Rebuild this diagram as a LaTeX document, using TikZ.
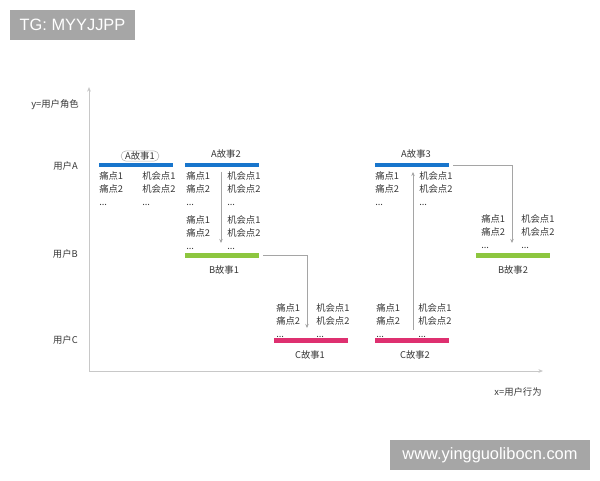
\documentclass[tikz,border=0pt]{standalone}
\usepackage{fontspec}
\setmainfont{Noto Sans CJK SC}
\newfontfamily\wmfont{Liberation Sans}
\usetikzlibrary{arrows.meta,calc}
\definecolor{barblue}{RGB}{24,117,204}
\definecolor{bargreen}{RGB}{141,198,63}
\definecolor{barpink}{RGB}{222,48,112}
\definecolor{wmgray}{RGB}{166,166,166}
\definecolor{txt}{RGB}{55,55,55}
\definecolor{connc}{RGB}{165,165,165}
\definecolor{axisc}{RGB}{200,200,200}
\tikzset{
  bar/.style={draw=none, minimum width=55.5pt, minimum height=3.4pt, inner sep=0pt},
  lbl/.style={font=\fontsize{7}{8}\selectfont, text=txt, inner sep=0.5pt},
  pts/.style={font=\fontsize{7}{9.4}\selectfont, text=txt, align=left, anchor=west, inner sep=0pt},
  conn/.style={draw=connc, line width=0.6pt, -{Stealth[length=3pt,width=2.6pt]}},
  axisline/.style={draw=axisc, line width=0.7pt, -{Stealth[length=3.5pt,width=2.8pt]}},
  wmbox/.style={fill=wmgray, text=white, font=\wmfont\fontsize{12.3}{14}\selectfont, inner sep=0pt, minimum height=22.5pt},
  axlbl/.style={font=\fontsize{7}{8}\selectfont, text=txt, inner sep=0pt}
}
\begin{document}
\begin{tikzpicture}[x=0.75pt,y=-0.75pt]
\useasboundingbox (0,0) rectangle (600,480);
% watermark boxes
\node[wmbox, minimum width=93.75pt] (tg) at (72.5,25) {TG: MYYJJPP};
\node[wmbox, minimum width=150pt] (wm) at (490,455) {www.yingguolibocn.com};
% axes
\coordinate (origin) at (89,371);
\coordinate (ytop) at (89,87);
\coordinate (xend) at (543,371);
\draw[axisline] (origin) -- (ytop);
\draw[axisline] (origin) -- (xend);
\node[axlbl] (ylab) at (55,105) {y=用户角色};
\node[axlbl, anchor=east] (ua) at (78,166) {用户A};
\node[axlbl, anchor=east] (ub) at (78,254) {用户B};
\node[axlbl, anchor=east] (uc) at (78,340) {用户C};
\node[axlbl] (xlab) at (518,392) {x=用户行为};
% bars
\node[bar, fill=barblue] (A1) at (136,165) {};
\node[bar, fill=barblue] (A2) at (222,165) {};
\node[bar, fill=barblue] (A3) at (412,165) {};
\node[bar, fill=bargreen] (B1) at (222,255.5) {};
\node[bar, fill=bargreen] (B2) at (513,255.5) {};
\node[bar, fill=barpink] (C1) at (311,340.5) {};
\node[bar, fill=barpink] (C2) at (412,340.5) {};
% story labels
\node[lbl, draw=gray!60, rounded corners=3.5pt, inner xsep=3pt, inner ysep=0.6pt] (lA1) at (140,156) {A故事1};
\node[lbl] (lA2) at (226,154) {A故事2};
\node[lbl] (lA3) at (416,154) {A故事3};
\node[lbl] (lB1) at (224,270) {B故事1};
\node[lbl] (lB2) at (513,270) {B故事2};
\node[lbl] (lC1) at (310,355) {C故事1};
\node[lbl] (lC2) at (415,355) {C故事2};
% pain points / opportunities
\node[pts] (pA1) at (99,190) {\strut 痛点1\\痛点2\\...\strut};
\node[pts] (oA1) at (142,190) {\strut 机会点1\\机会点2\\...\strut};
\node[pts] (pA2) at (186,190) {\strut 痛点1\\痛点2\\...\strut};
\node[pts] (oA2) at (227,190) {\strut 机会点1\\机会点2\\...\strut};
\node[pts] (pB1) at (186,234) {\strut 痛点1\\痛点2\\...\strut};
\node[pts] (oB1) at (227,234) {\strut 机会点1\\机会点2\\...\strut};
\node[pts] (pC1) at (276,322) {\strut 痛点1\\痛点2\\...\strut};
\node[pts] (oC1) at (316,322) {\strut 机会点1\\机会点2\\...\strut};
\node[pts] (pC2) at (376,322) {\strut 痛点1\\痛点2\\...\strut};
\node[pts] (oC2) at (418,322) {\strut 机会点1\\机会点2\\...\strut};
\node[pts] (pA3) at (375,190) {\strut 痛点1\\痛点2\\...\strut};
\node[pts] (oA3) at (419,190) {\strut 机会点1\\机会点2\\...\strut};
\node[pts] (pB2) at (481,233) {\strut 痛点1\\痛点2\\...\strut};
\node[pts] (oB2) at (521,233) {\strut 机会点1\\机会点2\\...\strut};
% connectors
\coordinate (t1) at (221,243);
\draw[conn, shorten <=3pt] (A2.south -| t1) -- (t1);
\coordinate (t2) at (307,328);
\draw[conn, shorten <=3pt] (B1.east) -| (t2);
\coordinate (t3) at (413,172);
\coordinate (s3) at (413,330);
\draw[conn] (s3) -- (t3);
\coordinate (t4) at (512,243);
\draw[conn, shorten <=3pt] (A3.east) -| (t4);
\end{tikzpicture}
\end{document}
